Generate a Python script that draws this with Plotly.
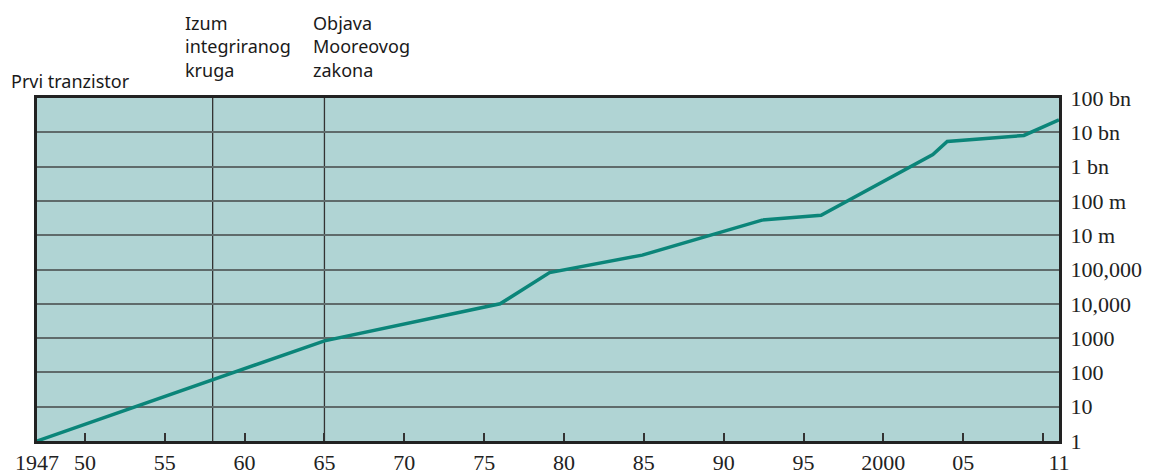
import plotly.graph_objects as go

# Data (y in axis units: one grid step per decade as drawn on the chart)
years = [1947, 1965, 1976, 1979.1, 1984.9, 1992.4, 1996.1, 2003.1, 2004.0, 2008.8, 2011]
counts = [1, 830, 10000, 81000, 263000, 2.75e6, 3.8e6, 2.24e8, 5.4e8, 8.1e8, 2.3e9]

y_tickvals = [1, 10, 100, 1e3, 1e4, 1e5, 1e6, 1e7, 1e8, 1e9, 1e10]
y_ticktext = ["1", "10", "100", "1000", "10,000", "100,000", "10 m", "100 m", "1 bn", "10 bn", "100 bn"]

x_tickvals = [1947, 1950, 1955, 1960, 1965, 1970, 1975, 1980, 1985, 1990, 1995, 2000, 2005, 2010, 2011]
x_ticktext = ["1947", "50", "55", "60", "65", "70", "75", "80", "85", "90", "95", "2000", "05", "", "11"]

event_years = [1958, 1965]
event_labels = ["Prvi tranzistor", "Izum<br>integriranog<br>kruga", "Objava<br>Mooreovog<br>zakona"]
label_x = [-0.027, 0.143, 0.268]
label_y = [1.01, 1.041, 1.042]

fig = go.Figure()
fig.add_trace(go.Scatter(
    x=years, y=counts, mode="lines",
    line=dict(color="#0b8579", width=3.5),
    hoverinfo="skip", showlegend=False, cliponaxis=False,
))

for yr in event_years:
    fig.add_shape(type="line", xref="x", yref="paper", x0=yr, x1=yr, y0=0, y1=1,
                  line=dict(color="#333333", width=1.3), layer="below")

for txt, xv, yv in zip(event_labels, label_x, label_y):
    fig.add_annotation(x=xv, y=yv, xref="paper", yref="paper", text=txt, showarrow=False,
                       xanchor="left", yanchor="bottom", align="left",
                       font=dict(family="Noto Sans", size=18, color="#1a1a1a"))

fig.update_layout(
    width=1157, height=475,
    margin=dict(l=29, r=106, t=90, b=42),
    paper_bgcolor="white",
    plot_bgcolor="#b0d4d4",
    xaxis=dict(
        range=[1947, 2011], tickmode="array", tickvals=x_tickvals, ticktext=x_ticktext,
        ticks="inside", ticklen=8, tickwidth=1.5, tickcolor="#333",
        showgrid=False, zeroline=False, showline=True, mirror=True,
        linecolor="#222", linewidth=3, automargin=False,
        tickfont=dict(family="Liberation Serif", size=22, color="#222"),
        ticklabelstandoff=0,
    ),
    yaxis=dict(
        type="log", range=[0, 10], side="right",
        tickmode="array", tickvals=y_tickvals, ticktext=y_ticktext,
        ticks="", showgrid=True, gridcolor="#5f6b6b", gridwidth=2,
        zeroline=False, showline=True, mirror=True, linecolor="#222", linewidth=3,
        automargin=False,
        tickfont=dict(family="Liberation Serif", size=22, color="#222"),
        ticklabelstandoff=4,
    ),
)

fig.write_html("out.html")
